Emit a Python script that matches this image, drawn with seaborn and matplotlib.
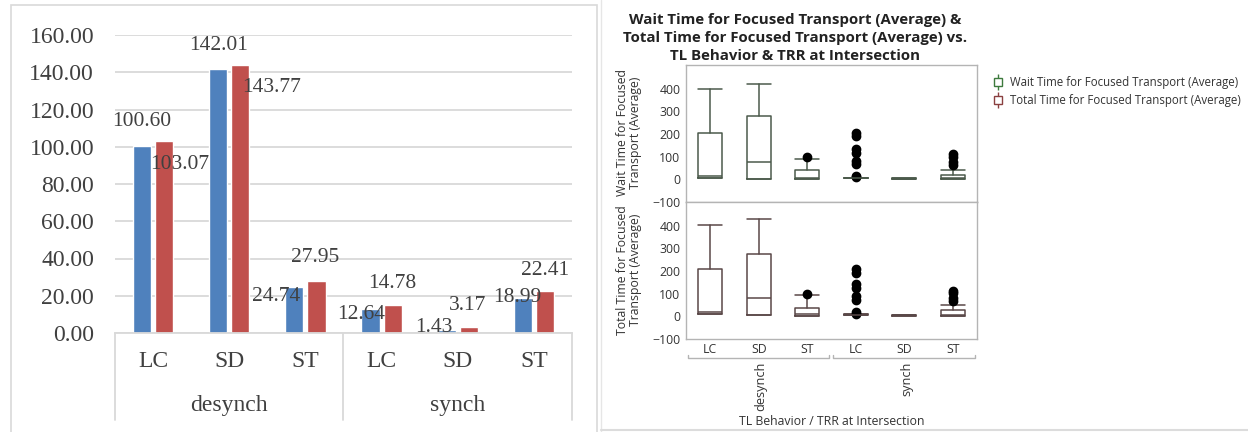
import pandas as pd
import seaborn as sns
import matplotlib.pyplot as plt
from matplotlib.lines import Line2D
from matplotlib.patches import Rectangle
from matplotlib.legend_handler import HandlerTuple

# ---- left chart data (Excel style bar chart) ----
groups = ["desynch"] * 3 + ["synch"] * 3
trr = ["LC", "SD", "ST", "LC", "SD", "ST"]
wait_avg = [100.60, 142.01, 24.74, 12.64, 1.43, 18.99]
total_avg = [103.07, 143.77, 27.95, 14.78, 3.17, 22.41]
series_names = ["Wait", "Total"]
# where Excel happened to put the data labels (pixel offsets from bar top)
wait_lbl_off = [(0, 24), (0, 23), (-18, -10), (-9, -5), (-13, 3), (-6, 0)]
total_lbl_off = [(16, -23), (31, -22), (-1, 23), (0, 22), (-1, 22), (0, 21)]

# ---- right chart data (JMP box plots) ----
box_cats = ["LC", "SD", "ST", "LC", "SD", "ST"]
wait_q1 = [7, 3, 3, 5, 2, 0]
wait_med = [17, 76, 5, 6, 3, 7]
wait_q3 = [203, 279, 41, 8, 4, 18]
wait_lo = [7, 3, 3, 5, 2, 0]
wait_hi = [400, 423, 91, 8, 4, 43]
wait_fliers = [[], [], [97], [206, 191, 132, 117, 81, 66, 15, 10], [], [110, 100, 76, 63]]

total_q1 = [10, 6, 3, 5, 3, 3]
total_med = [20, 83, 10, 6, 4, 8]
total_q3 = [207, 276, 39, 9, 5, 28]
total_lo = [10, 6, 3, 5, 3, 3]
total_hi = [403, 428, 94, 9, 5, 51]
total_fliers = [[], [], [100], [207, 192, 141, 126, 90, 73, 20, 10], [], [111, 101, 80, 66]]

W, H = 1248, 432
sns.set_style("white")
fig = plt.figure(figsize=(W / 100, H / 100), dpi=100)

# ================= left: bars =================
serif = ["Liberation Serif", "DejaVu Serif"]
txt = "#404040"
grid = "#d9d9d9"
blue, red = "#4f81bd", "#c0504d"

fig.add_artist(Rectangle((11 / W, -0.1), 586 / W, 1.1 - 5 / H, transform=fig.transFigure,
                         fill=False, edgecolor=grid, lw=1.2))

ax1 = fig.add_axes([115 / W, 1 - 333 / H, 457 / W, 298 / H])
cats = [g + " " + t for g, t in zip(groups, trr)]
df = pd.DataFrame({
    "cat": cats * 2,
    "value": wait_avg + total_avg,
    "series": [series_names[0]] * 6 + [series_names[1]] * 6,
})
sns.barplot(data=df, x="cat", y="value", hue="series", palette=[blue, red],
            saturation=1, width=0.58, gap=0.18, legend=False, ax=ax1)
ax1.set_ylim(0, 160)
ax1.set_xlim(-0.5, 5.5)
ax1.set_yticks(range(0, 161, 20))
ax1.set_yticklabels(["%.2f" % v for v in range(0, 161, 20)])
ax1.set_xticks(range(6))
ax1.set_xticklabels(trr)
ax1.tick_params(axis="both", length=0, labelsize=17, labelcolor=txt)
ax1.tick_params(axis="y", pad=15)
ax1.tick_params(axis="x", pad=13)
for lab in ax1.get_xticklabels() + ax1.get_yticklabels():
    lab.set_family(serif)
ax1.set_xlabel("")
ax1.set_ylabel("")
ax1.yaxis.grid(True, color=grid, lw=1.3)
ax1.set_axisbelow(True)
for s in ["left", "right", "top"]:
    ax1.spines[s].set_visible(False)
ax1.spines["bottom"].set_color(grid)
ax1.spines["bottom"].set_linewidth(1.3)

tr = ax1.get_xaxis_transform()
for xs in [-0.5, 2.5, 5.5]:
    ax1.plot([xs, xs], [0, -0.292], transform=tr, color=grid, lw=1.3, clip_on=False)
for i, g in enumerate(["desynch", "synch"]):
    ax1.text(1 + 3 * i, -0.242, g, transform=tr, ha="center", va="center",
             fontsize=17, color=txt, family=serif)

for cont, offs in zip(ax1.containers, [wait_lbl_off, total_lbl_off]):
    for bar, (dx, dy) in zip(cont, offs):
        ax1.annotate("%.2f" % bar.get_height(),
                     (bar.get_x() + bar.get_width() / 2, bar.get_height()),
                     xytext=(dx, dy), textcoords="offset pixels",
                     ha="center", va="center", fontsize=15.5, color=txt,
                     family=serif, annotation_clip=False)

# ================= right: box plots =================
sans = ["Open Sans", "DejaVu Sans"]
frame = "#b4b4b4"
dark = "#333333"
wait_col, total_col = "#4b5a4b", "#5a4848"


def make_stats(q1, med, q3, lo, hi, fl):
    return [dict(q1=a, med=b, q3=c, whislo=d, whishi=e, fliers=f)
            for a, b, c, d, e, f in zip(q1, med, q3, lo, hi, fl)]


ax_w = fig.add_axes([686 / W, 1 - 202 / H, 291 / W, 137 / H])
ax_t = fig.add_axes([686 / W, 1 - 339 / H, 291 / W, 137 / H], sharex=ax_w)

panels = [
    (ax_w, make_stats(wait_q1, wait_med, wait_q3, wait_lo, wait_hi, wait_fliers), wait_col),
    (ax_t, make_stats(total_q1, total_med, total_q3, total_lo, total_hi, total_fliers), total_col),
]
for ax, stats, col in panels:
    ln = dict(color=col, lw=1.1)
    ax.bxp(stats, positions=range(6), widths=0.5, capwidths=0.5,
           boxprops=ln, whiskerprops=ln, capprops=ln, medianprops=ln,
           flierprops=dict(marker="o", mfc="black", mec="black", ms=6))
    ax.set_ylim(-100, 505)
    ax.set_xlim(-0.5, 5.5)
    ax.set_yticks([-100, 0, 100, 200, 300, 400])
    ax.tick_params(axis="y", labelsize=8.8, labelcolor=dark, length=3, color=frame, pad=1)
    for lab in ax.get_yticklabels():
        lab.set_family(sans)
    for s in ax.spines.values():
        s.set_color(frame)
        s.set_linewidth(1)

ax_w.tick_params(axis="x", bottom=False, labelbottom=False)
ax_t.set_xticks(range(6))
ax_t.set_xticklabels(box_cats)
ax_t.tick_params(axis="x", labelsize=8.8, labelcolor=dark, length=0, pad=3)
for lab in ax_t.get_xticklabels():
    lab.set_family(sans)

trt = ax_t.get_xaxis_transform()
for x0, x1, g in [(-0.46, 2.45, "desynch"), (2.53, 5.46, "synch")]:
    ax_t.plot([x0, x0, x1, x1], [-0.12, -0.139, -0.139, -0.12], transform=trt,
              color=frame, lw=1, clip_on=False)
    ax_t.text((x0 + x1) / 2 + 0.05, -0.165, g, transform=trt, rotation=90, ha="center",
              va="top", fontsize=9.2, color=dark, family=sans)
ax_t.text(0.5, -0.6, "TL Behavior / TRR at Intersection", transform=ax_t.transAxes,
          ha="center", va="center", fontsize=8.8, color=dark, family=sans)

fig.text(629 / W, 1 - 133 / H, "Wait Time for Focused\nTransport (Average)", rotation=90,
         ha="center", va="center", fontsize=8.8, color=dark, family=sans, linespacing=1.1)
fig.text(629 / W, 1 - 270 / H, "Total Time for Focused\nTransport (Average)", rotation=90,
         ha="center", va="center", fontsize=8.8, color=dark, family=sans, linespacing=1.1)

fig.text(795 / W, 1 - 38 / H,
         "Wait Time for Focused Transport (Average) &\n"
         "Total Time for Focused Transport (Average) vs.\n"
         "TL Behavior & TRR at Intersection",
         ha="center", va="center", fontsize=10.8, fontweight="bold", color="#222222",
         family=sans, linespacing=1.4)

handles = []
for c in ["#3d7a3d", "#8a4040"]:
    handles.append((Line2D([], [], color=c, marker="|", ms=11, mew=1, ls=""),
                    Line2D([], [], color=c, marker="s", ms=6, mfc="white", mew=1, ls="")))
fig.legend(handles, ["Wait Time for Focused Transport (Average)",
                     "Total Time for Focused Transport (Average)"],
           handler_map={tuple: HandlerTuple(ndivide=1, pad=0)},
           loc="upper left", bbox_to_anchor=(982 / W, 1 - 66 / H), frameon=False,
           prop={"family": sans, "size": 8.3}, handlelength=1.0, handletextpad=0.5,
           labelspacing=0.4, labelcolor=dark)

fig.add_artist(Line2D([601 / W, 601 / W], [0, 1], transform=fig.transFigure, color="#e6e6e6", lw=1))
fig.add_artist(Line2D([601 / W, 1], [2 / H, 2 / H], transform=fig.transFigure, color="#dcdcdc", lw=1.5))

fig.savefig("out.png", dpi=100)
